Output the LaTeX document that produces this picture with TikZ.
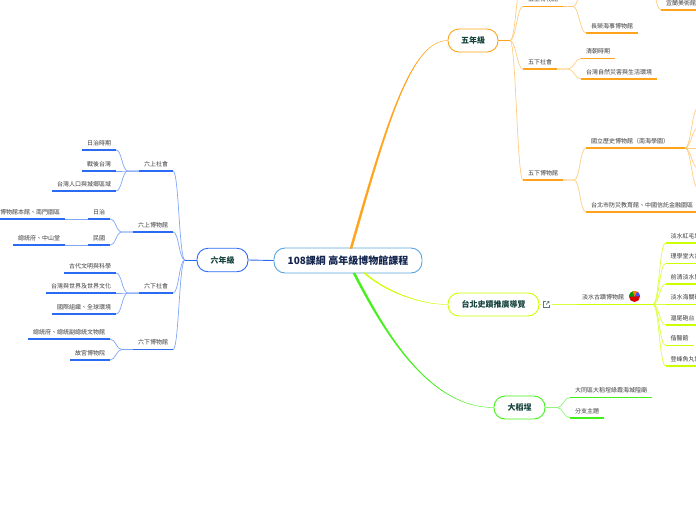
\documentclass[tikz,border=0pt]{standalone}
\usepackage{fontspec}
\usetikzlibrary{calc}
\setmainfont{Noto Sans CJK TC}
\definecolor{myblue}{HTML}{2B6BF3}
\definecolor{myorange}{HTML}{FFA31A}
\definecolor{myyellow}{HTML}{CCFF00}
\definecolor{mygreen}{HTML}{44F01A}
\definecolor{rootblue}{HTML}{5AA5DC}
\definecolor{roottext}{HTML}{14264F}
\definecolor{boxtext}{HTML}{16423C}
\definecolor{leaftext}{HTML}{3A3A3A}
\tikzset{
  box/.style={draw,fill=white,rounded corners=11pt,line width=0.9pt,font=\fontsize{8}{8}\selectfont\bfseries,text=boxtext,inner sep=0pt},
  leaf/.style={font=\fontsize{6}{6}\selectfont,text=leaftext,inner xsep=5pt,inner ysep=5pt,text height=5pt,text depth=0pt,outer sep=0pt},
  fanl/.style={to path={.. controls +(-6,0) and +(6,0) .. (\tikztotarget)}},
  fanr/.style={to path={.. controls +(6,0) and +(-6,0) .. (\tikztotarget)}},
  bluebar/.style={myblue,line width=1.3pt},
  orangebar/.style={myorange,line width=1.3pt},
  yellowbar/.style={myyellow,line width=1.4pt},
  greenbar/.style={mygreen,line width=1.3pt},
  bluefan/.style={myblue!60,line width=0.7pt},
  orangefan/.style={myorange!55,line width=0.7pt},
  yellowfan/.style={myyellow!75,line width=0.7pt},
  greenfan/.style={mygreen!60,line width=0.7pt},
}
\begin{document}
\begin{tikzpicture}[x=1pt,y=-1pt]
\useasboundingbox (0,0) rectangle (696,520);
\clip (0,0) rectangle (696,520);

\node[box,draw=rootblue,text=roottext,minimum width=148pt,minimum height=25pt,font=\fontsize{10}{10}\selectfont\bfseries] (root) at (348,260.5) {108課綱 高年級博物館課程};
\node[box,draw=myblue,minimum width=51pt,minimum height=23.5pt] (six) at (222.5,260) {六年級};
\node[box,draw=myorange,minimum width=50pt,minimum height=23pt] (five) at (473,40.5) {五年級};
\node[box,draw=myyellow,minimum width=91pt,minimum height=23pt] (tour) at (493.5,304.5) {台北史蹟推廣導覽};
\node[box,draw=mygreen,minimum width=51pt,minimum height=23pt] (dadao) at (519.5,407.5) {大稻埕};

\coordinate (orangeout) at (351,248.5);
\coordinate (yellowout) at (364,272.5);
\coordinate (greenout) at (354,273);
\filldraw[myorange,line width=0.3pt] ($(orangeout)+(-1.1,0)$) .. controls (384,130) and (410,40.5) .. (five.west) .. controls (410,40.5) and (386,130) .. ($(orangeout)+(1.1,0)$) -- cycle;
\filldraw[myyellow,line width=0.3pt] ($(yellowout)+(-0.9,0)$) .. controls (385,292) and (420,304.5) .. (tour.west) .. controls (420,304.5) and (385,291) .. ($(yellowout)+(0.9,0)$) -- cycle;
\filldraw[mygreen,line width=0.3pt] ($(greenout)+(-1.2,0)$) .. controls (385,335) and (430,407.5) .. (dadao.west) .. controls (430,407.5) and (387,335) .. ($(greenout)+(1.2,0)$) -- cycle;
\draw[myblue,line width=0.9pt] (root.west) -- (six.east);

\node[leaf,anchor=south east] (s1) at (173,171) {六上社會};
\node[leaf,anchor=south east] (s2) at (173,232) {六上博物館};
\node[leaf,anchor=south east] (s3) at (173,293) {六下社會};
\node[leaf,anchor=south east] (s4) at (173,349.5) {六下博物館};
\node[leaf,anchor=south east] (s1a) at (116,150) {日治時期};
\node[leaf,anchor=south east] (s1b) at (116,171) {戰後台灣};
\node[leaf,anchor=south east] (s1c) at (116,191) {台灣人口與城鄉區域};
\node[leaf,anchor=south east] (s2a) at (110,219) {日治};
\node[leaf,anchor=south east] (s2b) at (110,245) {民國};
\node[leaf,anchor=south east] (s2a1) at (65,219) {博物館本館、南門園區};
\node[leaf,anchor=south east] (s2b1) at (65,245) {總統府、中山堂};
\node[leaf,anchor=south east] (s3a) at (116,273) {古代文明與科學};
\node[leaf,anchor=south east] (s3b) at (116,293) {台灣與世界及世界文化};
\node[leaf,anchor=south east] (s3c) at (116,314) {國際組織、全球環境};
\node[leaf,anchor=south east] (s4a) at (110,339) {總統府、總統副總統文物館};
\node[leaf,anchor=south east] (s4b) at (110,360) {故宮博物院};

\coordinate (sixfan) at (185,260);
\coordinate (s1fan) at (128,171);
\coordinate (s2fan) at (122,232);
\coordinate (s3fan) at (128,293);
\coordinate (s4fan) at (122,349.5);
\draw[myblue,line width=0.9pt] (six.west) -- (sixfan);
\foreach \kid in {s1,s2,s3,s4}
  \draw[bluefan] (sixfan) to[fanl] (\kid.south east);
\foreach \kid in {s1a,s1b,s1c}
  \draw[bluefan] (s1.south west) -- (s1fan) to[fanl] (\kid.south east);
\foreach \kid in {s2a,s2b}
  \draw[bluefan] (s2.south west) -- (s2fan) to[fanl] (\kid.south east);
\foreach \kid in {s3a,s3b,s3c}
  \draw[bluefan] (s3.south west) -- (s3fan) to[fanl] (\kid.south east);
\foreach \kid in {s4a,s4b}
  \draw[bluefan] (s4.south west) -- (s4fan) to[fanl] (\kid.south east);
\draw[bluefan] (s2a.south west) -- (s2a1.south east);
\draw[bluefan] (s2b.south west) -- (s2b1.south east);
\foreach \kid in {s1,s2,s3,s4,s1a,s1b,s1c,s2a,s2b,s2a1,s2b1,s3a,s3b,s3c,s4a,s4b}
  \draw[bluebar] (\kid.south west) -- (\kid.south east);

\node[leaf,anchor=south west] (f1) at (523,6.5) {五上博物館};
\node[leaf,anchor=south west] (f2) at (523,69) {五下社會};
\node[leaf,anchor=south west] (f3) at (523,180) {五下博物館};
\node[leaf,anchor=south west] (f1b) at (586,33) {長榮海事博物館};
\node[leaf,anchor=south west] (f1c) at (661,10) {宜蘭美術館};
\node[leaf,anchor=south west] (f2a) at (581,58.5) {清朝時期};
\node[leaf,anchor=south west] (f2b) at (581,79) {台灣自然災害與生活環境};
\node[leaf,anchor=south west,text width=89pt,align=left] (f3a) at (586,148) {國立歷史博物館（南海學園）};
\node[leaf,anchor=south west] (f3b) at (586,212) {台北市防災教育館、中國信託金融園區};

\coordinate (fivefan) at (510,40.5);
\coordinate (f1fan) at (573,6.5);
\coordinate (f2fan) at (568,69);
\coordinate (f3fan) at (574,180);
\coordinate (f3afan) at (685,148);
\coordinate (fup) at (523,-26);
\coordinate (f1up) at (586,-20);
\coordinate (f1cup) at (648,-24);
\draw[myorange,line width=0.9pt] (five.east) -- (fivefan);
\foreach \kid in {f1,f2,f3}
  \draw[orangefan] (fivefan) to[fanr] (\kid.south west);
\draw[orangefan] (fivefan) to[fanr] (fup);
\draw[orangefan] (f1.south east) -- (f1fan) to[fanr] (f1b.south west);
\draw[orangefan] (f1fan) to[fanr] (f1up);
\draw[orangefan] (f1cup) to[fanr] (f1c.south west);
\foreach \kid in {f2a,f2b}
  \draw[orangefan] (f2.south east) -- (f2fan) to[fanr] (\kid.south west);
\foreach \kid in {f3a,f3b}
  \draw[orangefan] (f3.south east) -- (f3fan) to[fanr] (\kid.south west);
\foreach \ky in {108,128,148,168,188}
  \draw[orangefan] (f3afan) to[fanr] (698,\ky);
\foreach \kid in {f1,f2,f3,f1b,f1c,f2a,f2b,f3a,f3b}
  \draw[orangebar] (\kid.south west) -- (\kid.south east);

\node[leaf,anchor=south west,text width=66pt,align=left] (t1) at (577,304.5) {淡水古蹟博物館};
\node[leaf,anchor=south west] (t1a) at (665.5,243) {淡水紅毛城};
\node[leaf,anchor=south west] (t1b) at (665.5,263.5) {理學堂大書院};
\node[leaf,anchor=south west] (t1c) at (665.5,284) {前清淡水關稅務司官邸};
\node[leaf,anchor=south west] (t1d) at (665.5,304.5) {淡水海關碼頭};
\node[leaf,anchor=south west] (t1e) at (665.5,325) {滬尾砲台};
\node[leaf,anchor=south west] (t1f) at (665.5,345.5) {偕醫館};
\node[leaf,anchor=south west] (t1g) at (665.5,366) {登峰魚丸博物館};
\coordinate (t1fan) at (653,304.5);
\draw[yellowfan] (tour.east) -- (t1.south west);
\foreach \kid in {t1a,t1b,t1c,t1d,t1e,t1f,t1g}
  \draw[yellowfan] (t1.south east) -- (t1fan) to[fanr] (\kid.south west);
\foreach \kid in {t1,t1a,t1b,t1c,t1d,t1e,t1f,t1g}
  \draw[yellowbar] (\kid.south west) -- (\kid.south east);

\node[fill=white,inner sep=0pt,minimum size=11pt] (linkicon) at (546.3,304.5) {};
\draw[boxtext!70,line width=0.6pt] (548.8,305) -- (548.8,307) -- (543.6,307) -- (543.6,301.7) -- (545.6,301.7);
\draw[boxtext!70,line width=0.6pt] (546,304.6) -- (549,301.5) (547,301.4) -- (549,301.4) -- (549,303.4);

\fill[red!85!black] (634.5,296.5) circle (5.5pt);
\fill[green!60!black] (634.5,296.5) -- (629,296.5) arc[start angle=180,end angle=110,radius=5.5pt] -- cycle;
\fill[orange] (634.5,296.5) -- (632.6,291.3) arc[start angle=110,end angle=60,radius=5.5pt] -- cycle;
\fill[blue!70] (634.5,296.5) -- (637.3,291.7) arc[start angle=60,end angle=0,radius=5.5pt] -- cycle;

\node[leaf,anchor=south west] (d1) at (570,397.5) {大同區大稻埕綠霞海城隍廟};
\node[leaf,anchor=south west] (d2) at (570,418) {分支主題};
\coordinate (dadaofan) at (557,407.5);
\draw[greenfan,line width=1.2pt] (dadao.east) -- (dadaofan);
\foreach \kid in {d1,d2}
  \draw[greenfan] (dadaofan) to[fanr] (\kid.south west);
\foreach \kid in {d2,d1}
  \draw[greenbar] (\kid.south west) -- (\kid.south east);
\end{tikzpicture}
\end{document}
